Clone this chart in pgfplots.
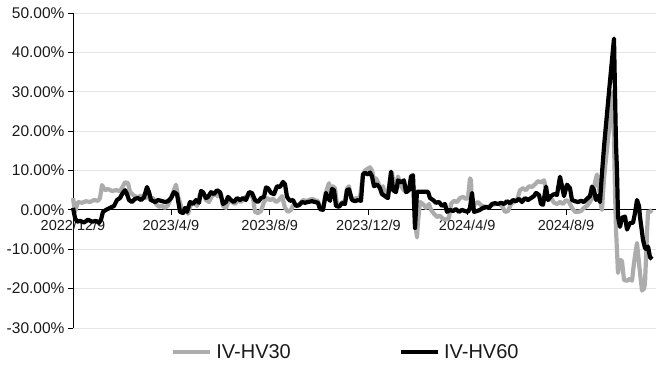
\documentclass[border=0pt]{standalone}
\usepackage{pgfplots}
\pgfplotsset{compat=1.18}
\usepackage{fontspec}
\setmainfont{Liberation Sans}
\definecolor{hvgray}{RGB}{172,172,172}
\definecolor{gridc}{RGB}{228,228,228}
\definecolor{txt}{RGB}{26,26,26}
\begin{document}
\begin{tikzpicture}
\path[use as bounding box] (-73pt,-38pt) rectangle (597pt,328pt);
\begin{axis}[
  at={(0,0)}, anchor=south west,
  scale only axis, width=583pt, height=315pt,
  xmin=73, xmax=656, ymin=-30, ymax=50,
  axis y line=left, axis x line=middle,
  x axis line style={-, black, line width=0.8pt},
  y axis line style={-, black, line width=0.8pt},
  hide obscured x ticks=false,
  xtick={73,170.9,269.7,368.5,467.2,566.0},
  xticklabels={2022/12/9,2023/4/9,2023/8/9,2023/12/9,2024/4/9,2024/8/9},
  ytick={-30,-20,-10,0,10,20,30,40,50},
  yticklabels={-30.00\%,-20.00\%,-10.00\%,0.00\%,10.00\%,20.00\%,30.00\%,40.00\%,50.00\%},
  tick align=outside, major tick length=5pt,
  tick style={black, line width=0.8pt},
  x tick label style={font=\fontsize{14.5}{16}\selectfont, text=txt, yshift=-2pt},
  y tick label style={font=\fontsize{15.5}{18}\selectfont, text=txt},
  ymajorgrids, grid style={gridc, line width=0.8pt},
  legend style={at={(0.468,-0.076)}, anchor=center, draw=none, fill=none,
    legend columns=2, font=\fontsize{20}{22}\selectfont, text=txt,
    /tikz/every odd column/.append style={column sep=2pt},
    /tikz/every even column/.append style={column sep=106pt}},
  legend image code/.code={\draw[#1] (0pt,0pt) -- (37pt,0pt);},
  clip=false,
]
\addplot[hvgray, line width=4.2pt, line join=round] coordinates {
(73,3.0)(75,-0.5)(78,2.0)(82,1.8)(86,2.2)(90,2.0)(94,2.5)(98,2.3)(100,3.0)(102,6.3)
(105,5.0)(108,5.3)(112,4.8)(116,5.0)(120,4.8)(122,5.6)(125,7.0)(128,6.8)(130,4.6)(133,3.8)
(137,3.2)(141,3.6)(145,3.0)(148,3.5)(150,2.5)(153,3.0)(156,1.5)(159,0.8)(162,1.0)(165,0.5)
(168,1.2)(171,3.0)(174,5.0)(176,6.4)(178,3.5)(181,1.0)(183,-0.8)(186,0.5)(188,-1.0)(191,1.5)
(194,2.0)(197,1.0)(200,4.0)(203,4.5)(206,2.5)(209,2.0)(212,3.5)(215,4.0)(218,3.5)(221,4.2)
(223,1.0)(226,0.5)(229,2.5)(232,2.0)(235,1.5)(238,2.5)(241,2.0)(244,3.0)(247,3.5)(250,4.0)
(253,3.0)(255,-0.5)(258,-0.8)(261,-0.3)(264,2.0)(267,3.0)(270,2.5)(273,2.8)(276,2.0)(279,2.5)
(282,3.5)(285,0.5)(288,-0.5)(291,0.0)(294,1.5)(297,1.0)(300,1.5)(303,2.5)(306,2.3)(309,2.5)
(312,2.8)(315,2.5)(318,2.2)(320,0.3)(323,0.5)(326,4.5)(329,6.8)(331,4.0)(333,6.0)(335,5.5)
(337,1.5)(340,1.0)(342,2.0)(345,2.0)(347,5.5)(349,6.0)(351,3.0)(354,2.8)(357,3.0)(360,3.2)
(363,9.0)(365,10.0)(368,10.5)(370,10.8)(372,10.0)(374,7.5)(376,8.0)(378,7.0)(381,5.0)(383,6.0)
(385,4.0)(387,3.0)(390,7.5)(392,9.5)(394,6.0)(396,5.5)(398,8.5)(401,6.0)(404,5.0)(407,4.5)
(410,6.0)(412,8.0)(414,5.0)(416,-5.0)(417,-7.0)(418,-3.0)(420,2.0)(423,1.5)(426,0.5)(429,1.5)
(431,0.0)(434,-1.0)(437,-1.8)(440,-1.5)(443,-2.3)(446,-2.5)(449,-2.0)(451,1.5)(454,2.3)(457,2.0)
(460,3.0)(463,3.3)(466,2.8)(468,3.0)(470,8.0)(471,7.5)(472,0.5)(475,1.5)(478,2.0)(481,1.2)
(484,0.8)(487,0.5)(490,1.0)(493,1.3)(496,1.5)(499,1.5)(502,1.0)(505,-0.5)(508,-0.3)(511,1.5)
(514,2.0)(517,2.5)(520,5.0)(523,5.5)(526,5.0)(529,6.0)(532,5.8)(535,6.5)(538,7.3)(541,7.0)
(544,7.5)(546,5.5)(548,2.5)(551,3.0)(554,1.8)(557,1.5)(560,2.0)(563,1.5)(566,2.5)(569,2.0)
(572,0.5)(575,-0.5)(578,-0.5)(581,-0.3)(584,0.5)(587,1.0)(590,2.0)(593,3.5)(595,7.0)(597,9.0)
(599,6.0)(601,1.0)(602,0.0)(604,8.0)(608,18.0)(613,30.0)(615,5.0)(616,-5.0)(618,-16.0)(620,-12.7)
(622,-13.0)(624,-17.8)(627,-18.0)(630,-17.5)(632,-18.0)(634,-13.5)(637,-8.4)(640,-16.0)(642,-20.5)(644,-20.0)
(645,-18.6)(647,-6.0)(648,-0.5)(650,-0.5)(652,0.0)
};
\addlegendentry{IV-HV30}
\addplot[black, line width=4.2pt, line join=round] coordinates {
(73,0.5)(75,-2.0)(77,-3.0)(80,-2.8)(84,-3.2)(88,-2.5)(92,-3.0)(96,-2.8)(99,-3.3)(101,-2.5)
(103,-0.5)(106,0.0)(110,0.5)(114,1.0)(117,2.5)(120,3.0)(122,4.0)(125,5.0)(127,4.0)(129,2.5)
(132,2.0)(135,2.8)(138,3.0)(141,2.5)(144,3.2)(147,5.8)(149,4.5)(151,2.5)(155,2.0)(158,2.5)
(161,2.3)(165,2.0)(168,2.2)(171,3.0)(174,4.5)(177,4.0)(180,-0.5)(183,-0.8)(185,0.5)(187,-0.5)
(190,2.0)(193,1.5)(196,2.5)(199,1.8)(201,4.8)(203,4.5)(206,3.0)(208,3.3)(211,4.5)(214,4.0)
(217,5.0)(220,4.5)(223,1.5)(226,2.0)(228,3.3)(231,2.5)(234,2.0)(237,3.0)(240,2.5)(243,3.0)
(246,2.5)(249,4.5)(252,4.3)(255,2.5)(258,2.0)(261,3.0)(264,3.3)(266,5.7)(268,5.5)(271,4.3)
(274,4.0)(277,6.0)(280,5.8)(283,7.1)(285,6.5)(287,3.3)(290,2.3)(293,2.5)(296,1.0)(299,1.2)
(302,2.0)(305,1.8)(308,2.0)(312,2.2)(315,2.0)(318,1.8)(320,0.2)(323,0.0)(326,4.3)(328,3.0)
(330,2.3)(332,5.3)(334,5.0)(336,1.0)(339,0.8)(342,1.7)(345,1.5)(347,5.0)(349,5.2)(352,2.5)
(355,2.2)(358,2.5)(361,2.3)(363,9.0)(365,9.4)(368,9.0)(370,9.5)(372,8.5)(374,6.0)(377,6.5)
(380,5.5)(382,4.0)(385,3.5)(388,3.0)(391,9.7)(393,5.0)(396,4.5)(398,7.5)(401,7.0)(404,7.5)
(406,4.5)(409,5.0)(411,8.5)(413,8.8)(415,-4.6)(417,4.6)(420,4.6)(424,4.6)(428,4.6)(430,3.0)
(433,2.5)(436,1.8)(439,2.0)(442,1.0)(445,1.5)(447,-0.5)(450,0.0)(453,-0.3)(456,0.2)(459,-0.5)
(462,0.0)(465,-0.3)(468,-0.5)(470,0.5)(472,4.3)(474,-0.5)(477,-0.3)(480,0.0)(483,0.5)(486,0.8)
(489,0.5)(492,1.5)(495,1.7)(498,1.5)(501,1.8)(504,1.5)(507,2.2)(510,1.7)(513,2.5)(516,2.2)
(519,2.8)(522,2.0)(525,3.0)(528,2.5)(531,3.0)(534,3.5)(536,4.3)(539,3.8)(541,1.5)(543,1.3)
(546,5.9)(548,2.5)(551,3.5)(554,4.0)(557,3.8)(560,8.4)(562,6.0)(564,3.5)(567,6.4)(570,5.5)
(572,2.5)(575,2.2)(578,2.0)(581,2.3)(584,2.0)(587,2.8)(590,3.5)(592,5.9)(594,5.0)(596,2.5)
(598,3.5)(600,2.0)(602,9.4)(604,16.0)(609,30.0)(614,43.5)(616,16.5)(617,10.0)(618,-1.8)(620,-4.3)
(622,-2.0)(625,-1.7)(627,-5.0)(630,-3.3)(633,-3.3)(635,-0.8)(637,2.5)(639,1.0)(640,-1.8)(643,-7.6)
(645,-9.7)(647,-10.0)(648,-9.3)(650,-12.0)(652,-12.5)
};
\addlegendentry{IV-HV60}
\end{axis}
\end{tikzpicture}
\end{document}
